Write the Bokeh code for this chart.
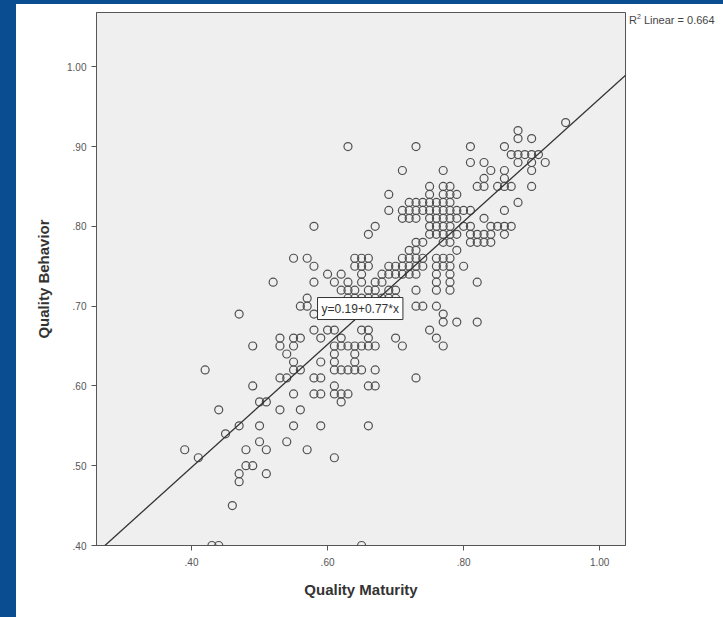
from bokeh.plotting import figure
from bokeh.models import Range1d, FixedTicker, Slope, Label, Div, ColumnDataSource, Spacer
from bokeh.layouts import row, column
from bokeh.embed import file_html
from bokeh.resources import INLINE

# Quality Behavior levels (y) and the Quality Maturity values (x) observed at each level
behavior_levels = [0.93, 0.92, 0.91, 0.90, 0.89, 0.88, 0.87, 0.86, 0.85, 0.84, 0.83, 0.82,
                   0.81, 0.80, 0.79, 0.78, 0.77, 0.76, 0.75, 0.74, 0.73, 0.72, 0.71, 0.70,
                   0.69, 0.68, 0.67, 0.66, 0.65, 0.64, 0.63, 0.62, 0.61, 0.60, 0.59, 0.58,
                   0.57, 0.55, 0.54, 0.53, 0.52, 0.51, 0.50, 0.49, 0.48, 0.45, 0.40]
maturity_values = [
    [0.95],
    [0.88],
    [0.88, 0.90],
    [0.63, 0.73, 0.81, 0.86],
    [0.87, 0.88, 0.89, 0.90, 0.91],
    [0.81, 0.83, 0.88, 0.90, 0.92],
    [0.71, 0.77, 0.84, 0.86, 0.90],
    [0.83, 0.86],
    [0.75, 0.77, 0.78, 0.82, 0.83, 0.85, 0.86, 0.87, 0.90],
    [0.69, 0.75, 0.77, 0.78, 0.79],
    [0.72, 0.73, 0.74, 0.75, 0.76, 0.77, 0.78, 0.88],
    [0.69, 0.71, 0.72, 0.73, 0.74, 0.75, 0.76, 0.77, 0.78, 0.79, 0.80, 0.81, 0.86],
    [0.71, 0.72, 0.73, 0.75, 0.76, 0.77, 0.78, 0.79, 0.83],
    [0.58, 0.67, 0.75, 0.76, 0.77, 0.78, 0.80, 0.81, 0.84, 0.85, 0.86, 0.87],
    [0.66, 0.75, 0.76, 0.77, 0.78, 0.79, 0.81, 0.82, 0.83, 0.84, 0.86],
    [0.73, 0.74, 0.77, 0.78, 0.81, 0.82, 0.83, 0.84],
    [0.72, 0.73, 0.79],
    [0.55, 0.57, 0.64, 0.65, 0.66, 0.71, 0.72, 0.73, 0.74, 0.76, 0.77, 0.78],
    [0.58, 0.64, 0.65, 0.66, 0.69, 0.70, 0.71, 0.72, 0.73, 0.74, 0.76, 0.77, 0.78, 0.80],
    [0.60, 0.62, 0.65, 0.68, 0.69, 0.70, 0.71, 0.72, 0.73, 0.76, 0.78],
    [0.52, 0.58, 0.61, 0.63, 0.65, 0.67, 0.68, 0.76, 0.78, 0.82],
    [0.62, 0.63, 0.64, 0.66, 0.67, 0.69, 0.70, 0.73, 0.76, 0.78],
    [0.57, 0.63, 0.64, 0.65, 0.66, 0.67, 0.68, 0.69, 0.70],
    [0.56, 0.57, 0.61, 0.64, 0.73, 0.74, 0.76],
    [0.47, 0.58, 0.77],
    [0.77, 0.79, 0.82],
    [0.58, 0.60, 0.61, 0.65, 0.66, 0.75],
    [0.53, 0.55, 0.56, 0.59, 0.62, 0.66, 0.70, 0.76],
    [0.49, 0.53, 0.55, 0.61, 0.62, 0.63, 0.64, 0.65, 0.66, 0.67, 0.71, 0.77],
    [0.54, 0.61, 0.64],
    [0.55, 0.59, 0.61, 0.64],
    [0.42, 0.55, 0.56, 0.61, 0.62, 0.63, 0.64, 0.65, 0.67],
    [0.53, 0.54, 0.58, 0.59, 0.73],
    [0.49, 0.61, 0.66, 0.67],
    [0.55, 0.58, 0.59, 0.61, 0.62, 0.63],
    [0.50, 0.51, 0.62],
    [0.44, 0.53, 0.56],
    [0.47, 0.50, 0.55, 0.59, 0.66],
    [0.45],
    [0.50, 0.54],
    [0.39, 0.48, 0.51, 0.57],
    [0.41, 0.61],
    [0.48, 0.49],
    [0.47, 0.51],
    [0.47],
    [0.46],
    [0.43, 0.44, 0.65],
]

x_ticks = [0.4, 0.6, 0.8, 1.0]
x_tick_labels = [".40", ".60", ".80", "1.00"]
y_ticks = [0.4, 0.5, 0.6, 0.7, 0.8, 0.9, 1.0]
y_tick_labels = [".40", ".50", ".60", ".70", ".80", ".90", "1.00"]

fit_intercept = 0.19
fit_slope = 0.77
r_squared = 0.664

xs, ys = [], []
for lvl, vals in zip(behavior_levels, maturity_values):
    for v in vals:
        xs.append(v)
        ys.append(lvl)
source = ColumnDataSource(data=dict(x=xs, y=ys))

BLUE = "#0b4d91"

p = figure(width=611, height=613,
           x_range=Range1d(0.2603, 1.038), y_range=Range1d(0.40, 1.068),
           output_backend="svg", toolbar_location=None,
           min_border_left=80, min_border_right=2, min_border_top=8, min_border_bottom=72)

p.background_fill_color = "#efefef"
p.border_fill_color = "white"
p.outline_line_color = "#555555"
p.outline_line_width = 1
p.grid.visible = False

for ax in (p.xaxis[0], p.yaxis[0]):
    ax.minor_tick_line_color = None
    ax.major_tick_in = 0
    ax.major_tick_out = 5
    ax.major_tick_line_color = "#555555"
    ax.axis_line_color = "#555555"
    ax.major_label_text_font = "Liberation Sans"
    ax.major_label_text_font_size = "10px"
    ax.major_label_text_color = "#555555"
    ax.axis_label_text_font = "Liberation Sans"
    ax.axis_label_text_font_style = "bold"
    ax.axis_label_text_font_size = "15px"
    ax.axis_label_text_color = "#333333"

p.xaxis.ticker = FixedTicker(ticks=x_ticks)
p.xaxis.major_label_overrides = dict(zip(x_ticks, x_tick_labels))
p.yaxis.ticker = FixedTicker(ticks=y_ticks)
p.yaxis.major_label_overrides = dict(zip(y_ticks, y_tick_labels))
p.xaxis.axis_label = "Quality Maturity"
p.yaxis.axis_label = "Quality Behavior"
p.xaxis.major_label_standoff = 7
p.xaxis.axis_label_standoff = 12
p.yaxis.major_label_standoff = 5
p.yaxis.axis_label_standoff = 12

p.scatter("x", "y", source=source, marker="circle", size=8,
          fill_color=None, line_color="#505050", line_width=1.2)

p.add_layout(Slope(gradient=fit_slope, y_intercept=fit_intercept,
                   line_color="#333333", line_width=1.3))

eq = Label(x=0.648, y=0.697, text=f"y={fit_intercept:.2f}+{fit_slope:.2f}*x",
           text_align="center", text_baseline="middle",
           text_font="Liberation Sans", text_font_size="12px", text_color="#333333",
           background_fill_color="white", border_line_color="#333333", border_line_width=1,
           padding=4)
p.add_layout(eq)

top_stripe = Div(width=723, height=4, styles={"background-color": BLUE}, margin=0)
left_stripe = Div(width=16, height=613, styles={"background-color": BLUE}, margin=0)
r2_text = Div(text=f"R<sup style='font-size:7px'>2</sup> Linear = {r_squared:.3f}",
              width=96, height=16, margin=0,
              styles={"font-family": "Liberation Sans", "font-size": "11px",
                      "color": "#444444", "padding-left": "2px", "white-space": "nowrap"})
right_col = column(Spacer(width=96, height=8), r2_text, spacing=0)

layout = column(top_stripe, row(left_stripe, p, right_col, spacing=0), spacing=0)

open("out.html", "w").write(file_html(layout, INLINE))
